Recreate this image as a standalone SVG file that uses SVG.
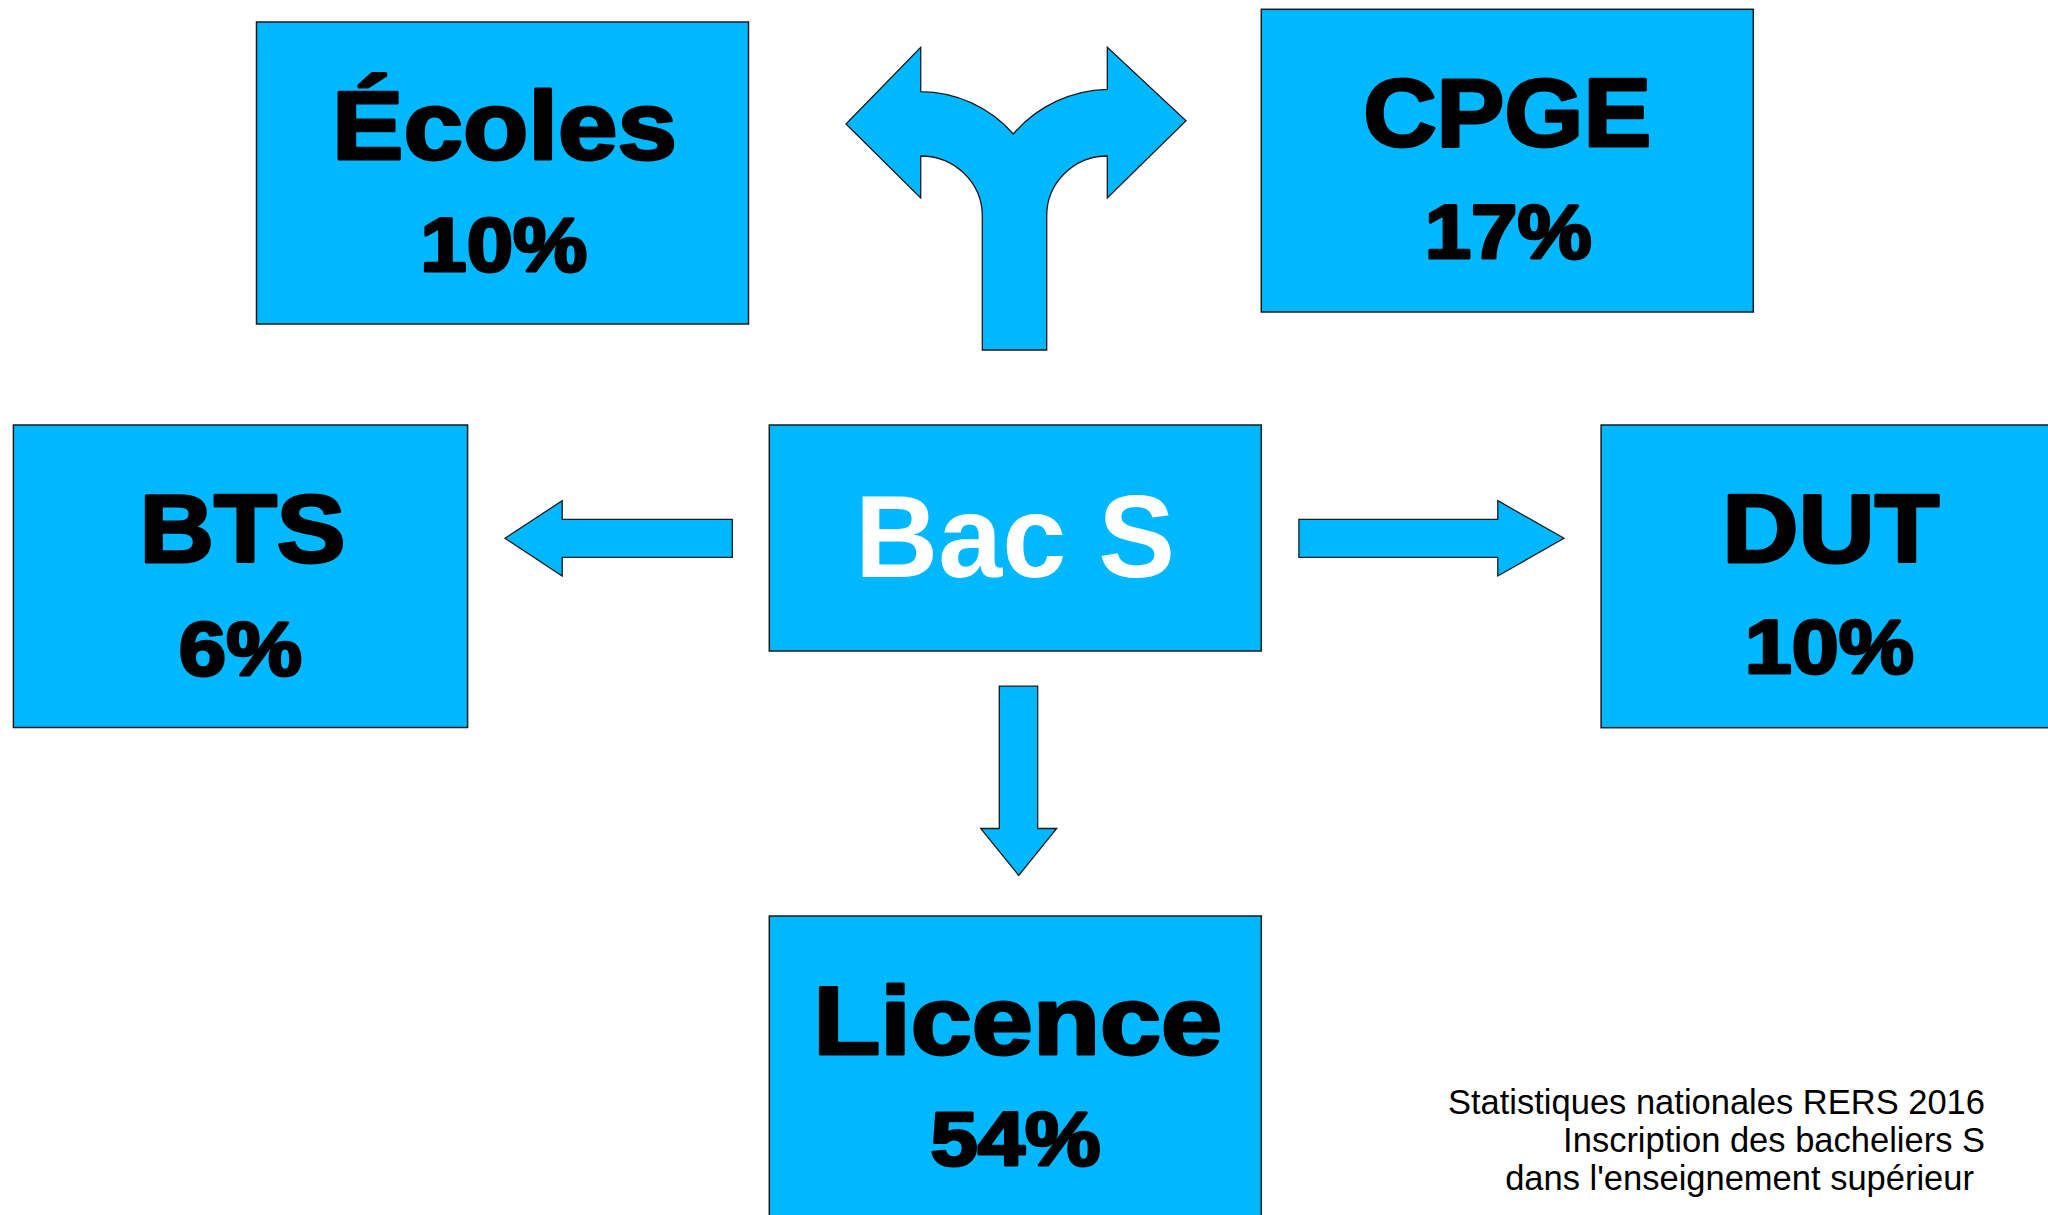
<svg xmlns="http://www.w3.org/2000/svg" width="2048" height="1215" viewBox="0 0 2048 1215">
<style>
.box{fill:#00b8ff;stroke:#1a1a1a;stroke-width:1.5}
.arr{fill:#00b8ff;stroke:#1a1a1a;stroke-width:1.3;stroke-linejoin:miter}
.t{font-family:"Liberation Sans",Arial,sans-serif;font-weight:bold;fill:#000;stroke:#000;stroke-width:3;stroke-linejoin:round;text-anchor:middle}
.big{font-size:96px}
.pct{font-size:76px}
.bac{font-family:"Liberation Sans",Arial,sans-serif;font-weight:bold;font-size:116px;fill:#fff;text-anchor:middle}
.note{font-family:"Liberation Sans",Arial,sans-serif;font-size:34.5px;fill:#000;text-anchor:end}
</style>
<rect width="2048" height="1215" fill="#fff"/>
<g id="connectors">
<path class="arr" d="M982.3 350 L982.3 216 A61.6 60 0 0 0 920.7 156 L920.7 198 L846 124 L920.7 47.3 L920.7 91.7 A124.3 124.3 0 0 1 1013.3 134 A127 127 0 0 1 1107.3 89.3 L1107.3 47.3 L1186 120.7 L1107.3 198 L1107.3 156 A60.6 60 0 0 0 1046.7 216 L1046.7 350 Z"/>
<polygon class="arr" points="732.3,519.3 562.2,519.3 562.2,500.7 505,538.3 562.2,576 562.2,557.3 732.3,557.3"/>
<polygon class="arr" points="1298.9,519.3 1497.8,519.3 1497.8,500.7 1564,538.3 1497.8,576 1497.8,557.3 1298.9,557.3"/>
<polygon class="arr" points="999.3,686.2 1037.7,686.2 1037.7,828.5 1056.7,828.5 1018.7,875.4 980.7,828.5 999.3,828.5"/>
</g>
<g id="ecoles">
<rect class="box" x="256.5" y="22" width="492" height="302"/>
<text class="t big" x="504.6" y="159" textLength="345" lengthAdjust="spacingAndGlyphs">Écoles</text>
<text class="t pct" x="503.8" y="270.7" textLength="167" lengthAdjust="spacingAndGlyphs">10%</text>
</g>
<g id="cpge">
<rect class="box" x="1261.3" y="9.3" width="492" height="302.7"/>
<text class="t big" x="1507.2" y="146" textLength="288" lengthAdjust="spacingAndGlyphs">CPGE</text>
<text class="t pct" x="1508.2" y="258.3" textLength="167" lengthAdjust="spacingAndGlyphs">17%</text>
</g>
<g id="bts">
<rect class="box" x="13.4" y="425" width="454.2" height="302.5"/>
<text class="t big" x="242.5" y="562" textLength="206" lengthAdjust="spacingAndGlyphs">BTS</text>
<text class="t pct" x="240.3" y="675" textLength="123" lengthAdjust="spacingAndGlyphs">6%</text>
</g>
<g id="bacs">
<rect class="box" x="769.3" y="425" width="492" height="226"/>
<text class="bac" x="1015" y="577" textLength="320" lengthAdjust="spacingAndGlyphs">Bac S</text>
</g>
<g id="dut">
<rect class="box" x="1601.1" y="425" width="492" height="302.7"/>
<text class="t big" x="1830.7" y="562" textLength="217" lengthAdjust="spacingAndGlyphs">DUT</text>
<text class="t pct" x="1829.3" y="673.3" textLength="169" lengthAdjust="spacingAndGlyphs">10%</text>
</g>
<g id="licence">
<rect class="box" x="769.3" y="916" width="492" height="320"/>
<text class="t big" x="1017.7" y="1053.6" textLength="409" lengthAdjust="spacingAndGlyphs">Licence</text>
<text class="t pct" x="1015.5" y="1165.1" textLength="170" lengthAdjust="spacingAndGlyphs">54%</text>
</g>
<g id="note">
<text class="note" x="1985" y="1114">Statistiques nationales RERS 2016</text>
<text class="note" x="1985" y="1152">Inscription des bacheliers S</text>
<text class="note" x="1974" y="1190">dans l'enseignement supérieur</text>
</g>
</svg>
